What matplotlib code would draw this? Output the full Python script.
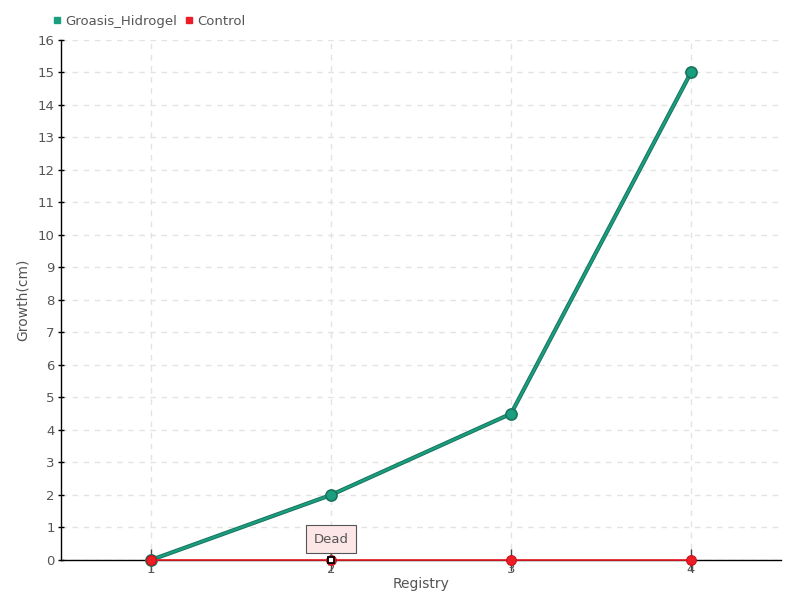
import matplotlib
matplotlib.use("Agg")
import matplotlib.pyplot as plt

registry = [1, 2, 3, 4]
groasis_hidrogel = [0, 2, 4.5, 15]
control = [0, 0, 0, 0]
y_ticks = list(range(0, 17))

green = "#1a9e80"
green_edge = "#17735c"
red = "#ee1c25"
text_col = "#555555"

plt.rcParams["font.family"] = ["DejaVu Sans"]

fig = plt.figure(figsize=(8, 6), dpi=100)
ax = fig.add_axes([0.07625, 0.0667, 0.9, 0.8667])

ax.plot(registry, groasis_hidrogel, color=green_edge, lw=3.0, zorder=3, solid_capstyle="round")
ax.plot(registry, groasis_hidrogel, color=green, lw=1.6, zorder=3,
        marker="o", markersize=8, markerfacecolor=green, markeredgecolor=green_edge,
        markeredgewidth=1.2, clip_on=False)
ax.plot(registry, control, color=red, lw=1.2, zorder=4,
        marker="o", markersize=7, markerfacecolor=red, markeredgecolor="#c8101a",
        markeredgewidth=0.8, clip_on=False)

# "Dead" marker on control at registry 2
ax.plot([registry[1]], [control[1]], marker="s", markersize=5, markerfacecolor="white",
        markeredgecolor="black", markeredgewidth=1.3, zorder=6, linestyle="none",
        clip_on=False)
ax.annotate("Dead", xy=(registry[1], control[1]), xytext=(0, 15), textcoords="offset points",
            ha="center", va="center", fontsize=9.5, color=text_col, zorder=7,
            bbox=dict(boxstyle="square,pad=0.55", fc="#fde6e6", ec="#555555", lw=0.8),
            arrowprops=dict(arrowstyle="-", color="#555555", lw=0.8, shrinkA=0, shrinkB=3))

ax.set_xlim(0.5, 4.5)
ax.set_ylim(0, 16)
ax.set_xticks(registry)
ax.set_yticks(y_ticks)
ax.grid(True, color="#e3e3e3", linestyle=(0, (4, 4)), lw=1)
ax.set_axisbelow(True)

for s in ["top", "right"]:
    ax.spines[s].set_visible(False)
for s in ["left", "bottom"]:
    ax.spines[s].set_color("black")
    ax.spines[s].set_linewidth(1)

ax.tick_params(axis="y", direction="inout", length=5, width=1, colors="black",
               labelcolor=text_col, labelsize=9.5, pad=2)
ax.tick_params(axis="x", direction="inout", length=16, width=1, colors="#444444",
               labelcolor=text_col, labelsize=9.5, pad=-6)

ax.set_xlabel("Registry", color=text_col, fontsize=10, labelpad=1)
ax.set_ylabel("Growth(cm)", color=text_col, fontsize=10, labelpad=6)

h1 = plt.Line2D([], [], marker="s", color=green, linestyle="none", markersize=5)
h2 = plt.Line2D([], [], marker="s", color=red, linestyle="none", markersize=5)
fig.legend([h1, h2], ["Groasis_Hidrogel", "Control"], loc="upper left",
           bbox_to_anchor=(0.052, 0.995), ncol=2, frameon=False, fontsize=9.5,
           handlelength=0.6, handletextpad=0.3, columnspacing=0.6, labelcolor=text_col)

fig.savefig("out.png", dpi=100)
